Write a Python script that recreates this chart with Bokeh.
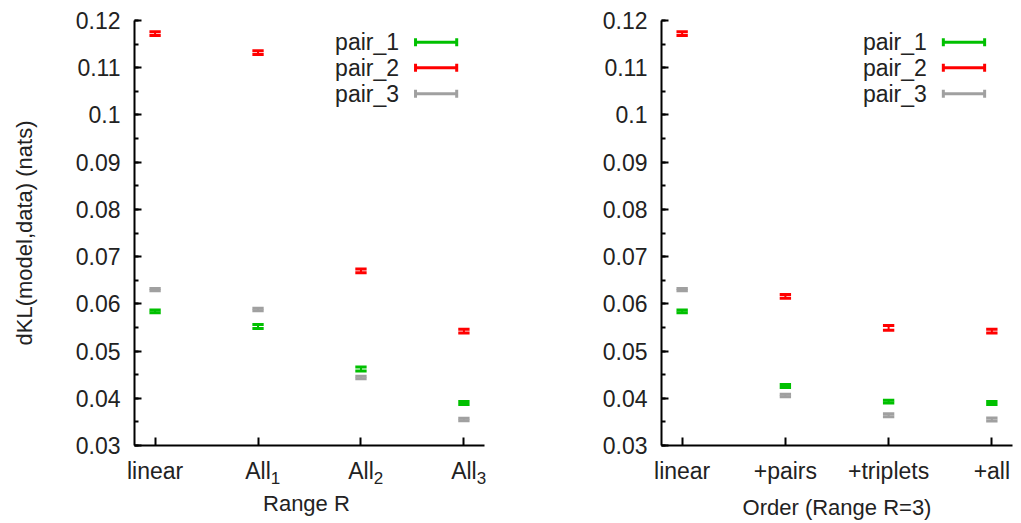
from bokeh.plotting import figure
from bokeh.layouts import row
from bokeh.models import (Range1d, FixedTicker, SingleIntervalTicker, NumeralTickFormatter,
                          LinearAxis)
from bokeh.core.properties import value
from bokeh.embed import file_html
from bokeh.resources import INLINE

# ---------------- data ----------------
series_names = ["pair_1", "pair_2", "pair_3"]
series_colors = ["#00c000", "#ff0000", "#a0a0a0"]

range_categories = ["linear", "All", "All", "All"]
range_subscripts = ["", "1", "2", "3"]
range_pair_1 = [0.0584, 0.0552, 0.0462, 0.0390]
range_pair_2 = [0.1172, 0.1132, 0.0670, 0.0542]
range_pair_3 = [0.0630, 0.0588, 0.0444, 0.0355]
range_err_1 = [0.0003, 0.0004, 0.0004, 0.0003]
range_err_2 = [0.0004, 0.0004, 0.0004, 0.0004]
range_err_3 = [0.00025, 0.00025, 0.00025, 0.00025]

order_categories = ["linear", "+pairs", "+triplets", "+all"]
order_subscripts = ["", "", "", ""]
order_pair_1 = [0.0584, 0.0426, 0.0393, 0.0390]
order_pair_2 = [0.1172, 0.0616, 0.0549, 0.0542]
order_pair_3 = [0.0630, 0.0406, 0.0364, 0.0355]
order_err_1 = [0.0003, 0.0003, 0.0003, 0.0003]
order_err_2 = [0.0004, 0.0004, 0.0005, 0.0004]
order_err_3 = [0.00025, 0.00025, 0.0003, 0.0003]

y_label = "dKL(model,data) (nats)"
x_label_range = "Range  R"
x_label_order = "Order (Range R=3)"

FONT = "Liberation Sans"
TXT = "#222222"
YMIN, YMAX = 0.03, 0.12


def style_title(ax, text, standoff):
    ax.axis_label = text
    ax.axis_label_text_font = FONT
    ax.axis_label_text_font_size = "22px"
    ax.axis_label_text_font_style = "normal"
    ax.axis_label_text_color = TXT
    ax.axis_label_standoff = standoff


def make_panel(categories, subscripts, values, errors, xlabel, ylabel, width, bl, br):
    p = figure(width=width, height=523, output_backend="svg", toolbar_location=None,
               x_range=Range1d(-0.2, 3.2), y_range=Range1d(YMIN, YMAX),
               min_border_left=bl, min_border_right=br,
               min_border_top=20, min_border_bottom=78)
    p.outline_line_color = None
    p.grid.visible = False
    p.background_fill_color = "white"
    p.border_fill_color = "white"

    xs = list(range(len(categories)))
    cap = 0.055
    for vals, errs, col in zip(values, errors, series_colors):
        lo = [v - e for v, e in zip(vals, errs)]
        hi = [v + e for v, e in zip(vals, errs)]
        p.segment(x0=xs, y0=lo, x1=xs, y1=hi, line_color=col, line_width=2)
        p.segment(x0=[x - cap for x in xs], y0=lo, x1=[x + cap for x in xs], y1=lo,
                  line_color=col, line_width=3)
        p.segment(x0=[x - cap for x in xs], y0=hi, x1=[x + cap for x in xs], y1=hi,
                  line_color=col, line_width=3)

    # legend (gnuplot style: label left, key right)
    ly = [0.1154, 0.1100, 0.1045]
    p.text(x=[2.37] * 3, y=ly, text=series_names, text_align="right",
           text_baseline="middle", text_font=value(FONT), text_font_size="23px",
           text_color=TXT)
    kx0, kx1, kh = 2.53, 2.93, 0.00085
    p.segment(x0=[kx0] * 3, y0=ly, x1=[kx1] * 3, y1=ly, line_color=series_colors, line_width=3)
    p.segment(x0=[kx0] * 3, y0=[y - kh for y in ly], x1=[kx0] * 3, y1=[y + kh for y in ly],
              line_color=series_colors, line_width=3)
    p.segment(x0=[kx1] * 3, y0=[y - kh for y in ly], x1=[kx1] * 3, y1=[y + kh for y in ly],
              line_color=series_colors, line_width=3)

    xa = p.xaxis[0]
    xa.ticker = FixedTicker(ticks=xs)
    xa.major_label_overrides = {i: c for i, c in enumerate(categories)}
    xa.axis_line_width = 2
    xa.axis_line_color = "black"
    xa.major_tick_line_width = 2
    xa.major_tick_line_color = "black"
    xa.major_tick_in = 8
    xa.major_tick_out = 0
    xa.minor_tick_line_color = None
    xa.major_label_standoff = 12
    xa.major_label_text_font = FONT
    xa.major_label_text_font_size = "23px"
    xa.major_label_text_color = TXT

    sub_pos = [x + 0.17 for x, s in zip(xs, subscripts) if s]
    sub_txt = [s for s in subscripts if s]
    if sub_pos:
        sa = LinearAxis(ticker=FixedTicker(ticks=sub_pos),
                        major_label_overrides={k: s for k, s in zip(sub_pos, sub_txt)})
        sa.axis_line_color = None
        sa.major_tick_line_color = None
        sa.minor_tick_line_color = None
        sa.major_tick_in = 0
        sa.major_tick_out = 0
        sa.major_label_standoff = -15
        sa.major_label_text_font = FONT
        sa.major_label_text_font_size = "17px"
        sa.major_label_text_color = TXT
        style_title(sa, xlabel, 4)
        p.add_layout(sa, "below")
    else:
        style_title(xa, xlabel, 8)

    ya = p.yaxis[0]
    ya.ticker = SingleIntervalTicker(interval=0.01, num_minor_ticks=2)
    ya.formatter = NumeralTickFormatter(format="0.[00]")
    ya.axis_line_width = 2
    ya.axis_line_color = "black"
    ya.major_tick_line_width = 2
    ya.major_tick_line_color = "black"
    ya.minor_tick_line_width = 2
    ya.minor_tick_line_color = "black"
    ya.major_tick_in = 7
    ya.major_tick_out = 0
    ya.minor_tick_in = 4
    ya.minor_tick_out = 0
    ya.major_label_standoff = 14
    ya.major_label_text_font = FONT
    ya.major_label_text_font_size = "23px"
    ya.major_label_text_color = TXT
    if ylabel:
        ya.axis_label = ylabel
        ya.axis_label_text_font = FONT
        ya.axis_label_text_font_size = "22px"
        ya.axis_label_text_font_style = "normal"
        ya.axis_label_text_color = TXT
        ya.axis_label_standoff = 36
    return p


left = make_panel(range_categories, range_subscripts,
                  [range_pair_1, range_pair_2, range_pair_3],
                  [range_err_1, range_err_2, range_err_3], x_label_range, y_label, 510, 134, 26)
right = make_panel(order_categories, order_subscripts,
                   [order_pair_1, order_pair_2, order_pair_3],
                   [order_err_1, order_err_2, order_err_3], x_label_order, None, 511, 151, 9)

layout = row(left, right)
open("out.html", "w").write(file_html(layout, INLINE))
